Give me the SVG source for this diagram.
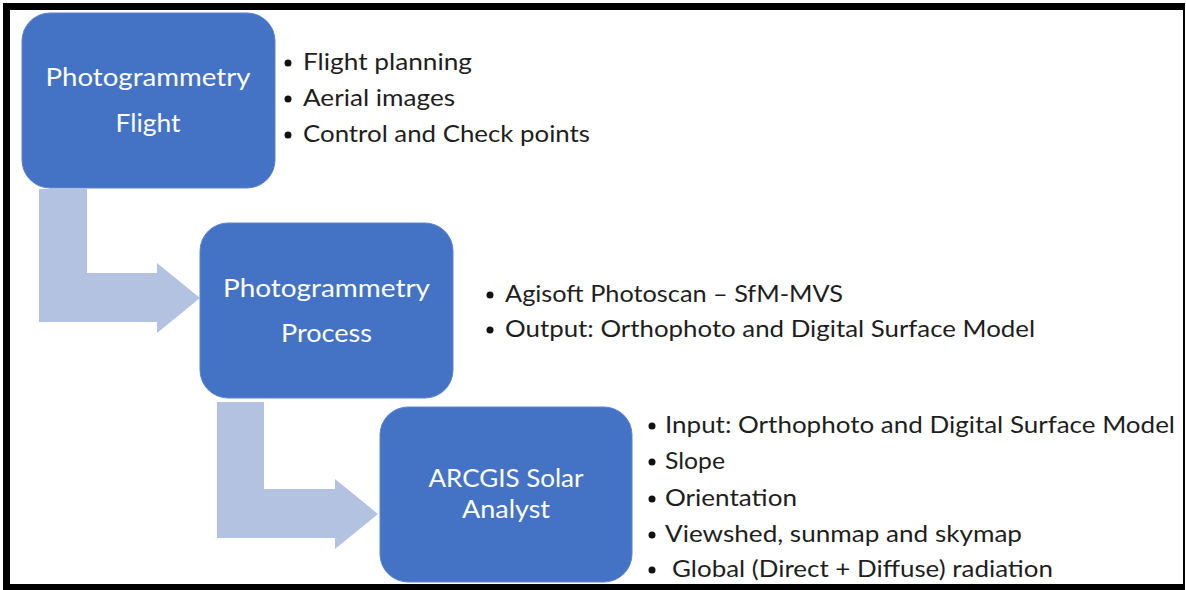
<svg xmlns="http://www.w3.org/2000/svg" width="1186" height="590" viewBox="0 0 1186 590">
<style>
.box{fill:#4472C4;stroke:#5B84CC;stroke-width:1}
.arrow{fill:#B4C2E2}
.bt{font-family:Lato,"Open Sans",sans-serif;font-size:25px;fill:#FFFFFF;text-anchor:middle}
.li{font-family:Lato,"Open Sans",sans-serif;font-size:23px;fill:#1E1E1E}
.dot{fill:#111111}
.frame{fill:#000000}
</style>
<rect width="1186" height="590" fill="#FFFFFF"/>
<g id="frame">
<rect class="frame" x="3" y="3" width="1182" height="7"/>
<rect class="frame" x="3" y="3" width="7" height="587"/>
<rect class="frame" x="1183" y="3" width="2" height="587"/>
<rect class="frame" x="3" y="584" width="1182" height="6"/>
</g>
<g id="connectors">
<path class="arrow" d="M39,189 L87,189 L87,273 L157,273 L157,263 L200,298 L157,333 L157,322 L39,322 Z"/>
<path class="arrow" d="M217,402 L264,402 L264,489 L335,489 L335,479 L378,514 L335,549 L335,538 L217,538 Z"/>
</g>
<g id="node-flight">
<rect class="box" x="22" y="13" width="253" height="175" rx="28"/>
<text class="bt" x="148" y="86" textLength="205" lengthAdjust="spacingAndGlyphs">Photogrammetry</text>
<text class="bt" x="148" y="132" textLength="65" lengthAdjust="spacingAndGlyphs">Flight</text>
</g>
<g id="list-flight">
<circle class="dot" cx="288" cy="63" r="3.5"/>
<circle class="dot" cx="288" cy="99" r="3.5"/>
<circle class="dot" cx="288" cy="135" r="3.5"/>
<text class="li" x="303" y="70" textLength="169" lengthAdjust="spacingAndGlyphs">Flight planning</text>
<text class="li" x="303" y="106" textLength="152" lengthAdjust="spacingAndGlyphs">Aerial images</text>
<text class="li" x="303" y="142" textLength="287" lengthAdjust="spacingAndGlyphs">Control and Check points</text>
</g>
<g id="node-process">
<rect class="box" x="200" y="223" width="253" height="175" rx="28"/>
<text class="bt" x="326.5" y="297" textLength="207" lengthAdjust="spacingAndGlyphs">Photogrammetry</text>
<text class="bt" x="326.5" y="342" textLength="91" lengthAdjust="spacingAndGlyphs">Process</text>
</g>
<g id="list-process">
<circle class="dot" cx="490" cy="295" r="3.5"/>
<circle class="dot" cx="490" cy="330" r="3.5"/>
<text class="li" x="505" y="302" textLength="338" lengthAdjust="spacingAndGlyphs">Agisoft Photoscan – SfM-MVS</text>
<text class="li" x="505" y="337" textLength="530" lengthAdjust="spacingAndGlyphs">Output: Orthophoto and Digital Surface Model</text>
</g>
<g id="node-solar">
<rect class="box" x="380" y="407" width="252" height="175" rx="28"/>
<text class="bt" x="506" y="487" textLength="155" lengthAdjust="spacingAndGlyphs">ARCGIS Solar</text>
<text class="bt" x="506" y="518" textLength="88" lengthAdjust="spacingAndGlyphs">Analyst</text>
</g>
<g id="list-solar">
<circle class="dot" cx="652" cy="426" r="3.5"/>
<circle class="dot" cx="652" cy="462" r="3.5"/>
<circle class="dot" cx="652" cy="499" r="3.5"/>
<circle class="dot" cx="652" cy="535" r="3.5"/>
<circle class="dot" cx="652" cy="570" r="3.5"/>
<text class="li" x="665" y="433" textLength="510" lengthAdjust="spacingAndGlyphs">Input: Orthophoto and Digital Surface Model</text>
<text class="li" x="665" y="469" textLength="60" lengthAdjust="spacingAndGlyphs">Slope</text>
<text class="li" x="665" y="506" textLength="132" lengthAdjust="spacingAndGlyphs">Orientation</text>
<text class="li" x="665" y="542" textLength="357" lengthAdjust="spacingAndGlyphs">Viewshed, sunmap and skymap</text>
<text class="li" x="672" y="577" textLength="381" lengthAdjust="spacingAndGlyphs">Global (Direct + Diffuse) radiation</text>
</g>
</svg>
